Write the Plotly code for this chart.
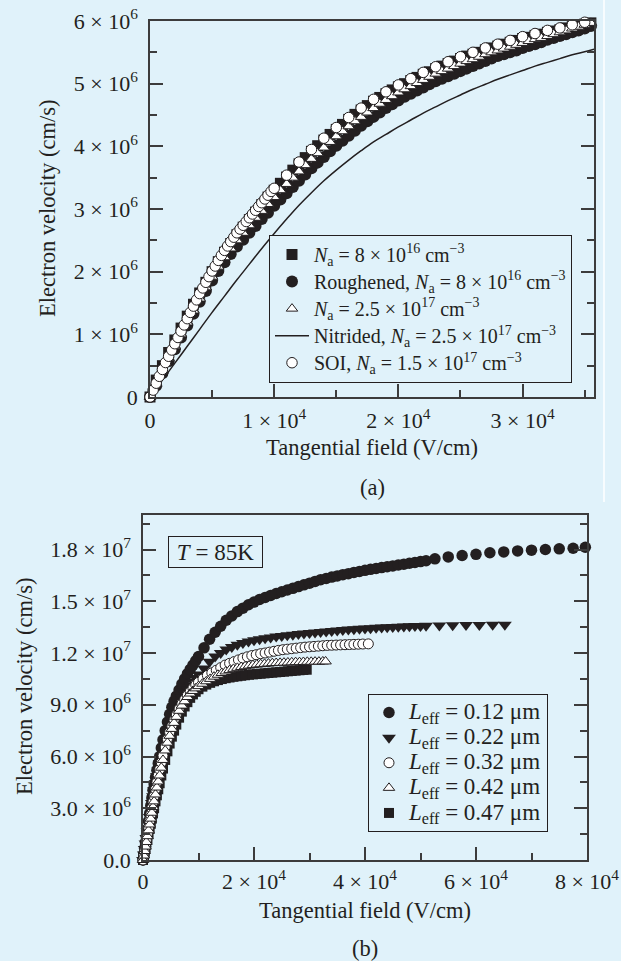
import numpy as np
import plotly.graph_objects as go

# ---------------- data: panel (a) ----------------
# SOI open circles (field V/cm, velocity in 1e6 cm/s)
E_soi = [0, 250, 500, 750, 1000, 1250, 1500, 1750, 2000, 2250, 2500, 2750, 3000, 3250, 3500, 3750,
         4000, 4250, 4500, 4750, 5000, 5250, 5500, 5750, 6000, 6250, 6500, 6750, 7000, 7250, 7500,
         7750, 8000, 8250, 8500, 8750, 9000, 9250, 9500, 9750, 10000,
         11000, 12000, 13000, 14000, 15000, 16000, 17000, 18000, 19000, 20000, 21000, 22000, 23000,
         24000, 25000, 26000, 27000, 28000, 29000, 30000, 31000, 32000, 33000, 34000, 35000]
v_soi = [0.00, 0.11, 0.22, 0.33, 0.44, 0.55, 0.65, 0.75, 0.85, 0.95, 1.05, 1.15, 1.25, 1.35, 1.45, 1.55,
         1.65, 1.74, 1.83, 1.92, 2.01, 2.09, 2.18, 2.26, 2.34, 2.41, 2.48, 2.55, 2.62, 2.68, 2.74,
         2.80, 2.86, 2.92, 2.98, 3.04, 3.10, 3.16, 3.22, 3.28, 3.33,
         3.54, 3.75, 3.95, 4.13, 4.30, 4.46, 4.61, 4.75, 4.87, 4.98, 5.08, 5.18, 5.27,
         5.35, 5.43, 5.50, 5.57, 5.63, 5.69, 5.75, 5.80, 5.85, 5.89, 5.94, 5.98]

# bulk samples (dense markers)
E_bulk = [0, 500, 1000, 1500, 2000, 2500, 3000, 3500, 4000, 4500,
          5000, 5500, 6000, 6500, 7000, 7500, 8000, 8500, 9000, 9500,
          10000, 10500, 11000, 11500, 12000, 12500, 13000, 13500, 14000, 14500,
          15000, 15500, 16000, 16500, 17000, 17500, 18000, 18500, 19000, 19500,
          20000, 20500, 21000, 21500, 22000, 22500, 23000, 23500, 24000, 24500,
          25000, 25500, 26000, 26500, 27000, 27500, 28000, 28500, 29000, 29500,
          30000, 30500, 31000, 31500, 32000, 32500, 33000, 33500, 34000, 34500,
          35000, 35500]
v_na8e16 = [0, 0.27, 0.50, 0.71, 0.91, 1.10, 1.29, 1.48, 1.66, 1.83,
            2.00, 2.16, 2.31, 2.45, 2.59, 2.71, 2.83, 2.95, 3.07, 3.19,
            3.30, 3.41, 3.51, 3.62, 3.72, 3.82, 3.92, 4.01, 4.10, 4.19,
            4.27, 4.35, 4.43, 4.51, 4.58, 4.65, 4.72, 4.78, 4.84, 4.90,
            4.95, 5.00, 5.05, 5.10, 5.15, 5.19, 5.24, 5.28, 5.32, 5.36,
            5.40, 5.44, 5.47, 5.50, 5.54, 5.57, 5.60, 5.63, 5.66, 5.69,
            5.72, 5.74, 5.77, 5.79, 5.82, 5.84, 5.86, 5.89, 5.91, 5.93,
            5.95, 5.97]
v_rough = [0, 0.18, 0.38, 0.57, 0.76, 0.95, 1.14, 1.33, 1.52, 1.69,
           1.86, 2.01, 2.15, 2.28, 2.40, 2.51, 2.62, 2.73, 2.84, 2.94,
           3.05, 3.15, 3.25, 3.35, 3.45, 3.55, 3.65, 3.74, 3.83, 3.92,
           4.01, 4.09, 4.17, 4.25, 4.33, 4.40, 4.47, 4.54, 4.61, 4.67,
           4.73, 4.79, 4.84, 4.89, 4.94, 4.99, 5.04, 5.08, 5.12, 5.16,
           5.20, 5.24, 5.28, 5.32, 5.36, 5.40, 5.44, 5.47, 5.50, 5.53,
           5.57, 5.60, 5.63, 5.66, 5.70, 5.73, 5.76, 5.79, 5.82, 5.85,
           5.88, 5.92]
v_na25e17 = [0, 0.21, 0.42, 0.62, 0.81, 1.00, 1.19, 1.38, 1.57, 1.75,
             1.92, 2.08, 2.23, 2.37, 2.50, 2.62, 2.74, 2.86, 2.97, 3.08,
             3.19, 3.30, 3.40, 3.50, 3.60, 3.70, 3.80, 3.89, 3.98, 4.07,
             4.16, 4.24, 4.32, 4.40, 4.47, 4.54, 4.61, 4.68, 4.74, 4.80,
             4.86, 4.91, 4.96, 5.01, 5.06, 5.11, 5.16, 5.20, 5.24, 5.28,
             5.32, 5.36, 5.39, 5.43, 5.47, 5.50, 5.53, 5.56, 5.59, 5.62,
             5.65, 5.68, 5.71, 5.73, 5.76, 5.79, 5.82, 5.85, 5.88, 5.91,
             5.94, 5.97]

# nitrided (solid line)
E_nit = [0, 1000, 2000, 3000, 4000, 5000, 6000, 7000, 8000, 9000, 10000, 11000, 12000, 13000,
         14000, 15000, 16000, 17000, 18000, 19000, 20000, 21000, 22000, 23000, 24000, 25000,
         26000, 27000, 28000, 29000, 30000, 31000, 32000, 33000, 34000, 35000, 35750]
v_nit = [0, 0.27, 0.54, 0.81, 1.08, 1.35, 1.61, 1.87, 2.12, 2.37, 2.61, 2.84, 3.06, 3.26,
         3.45, 3.62, 3.78, 3.93, 4.07, 4.19, 4.31, 4.42, 4.53, 4.63, 4.73, 4.82,
         4.91, 4.99, 5.07, 5.14, 5.21, 5.28, 5.34, 5.40, 5.46, 5.51, 5.55]

# ---------------- data: panel (b) (velocity in 1e7 cm/s) ----------------
E_b_low = [0, 150, 300, 450, 600, 800, 1000, 1200, 1400, 1600, 1800, 2000, 2250, 2500, 2750, 3000,
           3300, 3600, 4000, 4400, 4800, 5200, 5600, 6000, 6500, 7000, 7500, 8000, 8500, 9000, 9500, 10000]

v012_low = [0, 0.034, 0.068, 0.102, 0.135, 0.18, 0.225, 0.27, 0.315, 0.36, 0.405, 0.44, 0.48, 0.52, 0.56,
            0.60, 0.65, 0.697, 0.75, 0.80, 0.845, 0.885, 0.92, 0.95, 0.985, 1.02, 1.05, 1.08, 1.105,
            1.13, 1.155, 1.18]
E012_hi = [11000, 12000, 13000, 14000, 15000, 16000, 17000, 18000, 19000, 20000, 21000, 22000, 23000,
           24000, 25000, 26000, 27000, 28000, 29000, 30000, 31000, 32000, 33000, 34000, 35000, 36000,
           37000, 38000, 39000, 40000, 41000, 42000, 43000, 44000, 45000, 46000, 47000, 48000, 49000,
           50000, 51000, 52600, 55000, 57500, 60000, 62500, 65000, 67500, 70000, 72500, 75000, 77500, 79700]
v012_hi = [1.23, 1.28, 1.32, 1.355, 1.39, 1.415, 1.44, 1.46, 1.48, 1.495, 1.51, 1.522, 1.534,
           1.545, 1.555, 1.565, 1.575, 1.585, 1.595, 1.605, 1.615, 1.625, 1.632, 1.64, 1.647, 1.654,
           1.66, 1.667, 1.673, 1.679, 1.685, 1.69, 1.695, 1.70, 1.705, 1.71, 1.715, 1.72, 1.725,
           1.73, 1.735, 1.746, 1.757, 1.765, 1.772, 1.781, 1.786, 1.792, 1.796, 1.800, 1.804, 1.807, 1.813]

v022_low = [0, 0.032, 0.064, 0.095, 0.127, 0.168, 0.21, 0.25, 0.29, 0.33, 0.37, 0.405, 0.445, 0.485,
            0.522, 0.56, 0.60, 0.64, 0.69, 0.735, 0.775, 0.81, 0.845, 0.875, 0.91, 0.94, 0.965, 0.99,
            1.01, 1.035, 1.055, 1.075]
E022_hi = [11000, 12000, 13000, 14000, 15000, 16000, 17000, 18000, 19000, 20000, 21000, 22000, 23000,
           24000, 25000, 26000, 27000, 28000, 29000, 30000, 31000, 32000, 33000, 34000, 35000, 36000,
           37000, 38000, 39000, 40000, 41000, 42000, 43000, 44000, 45000, 46000, 47000, 48000, 49000,
           50000, 51000, 53400, 55800, 58200, 60600, 63000, 65200]
v022_hi = [1.11, 1.15, 1.18, 1.20, 1.22, 1.235, 1.248, 1.258, 1.267, 1.274, 1.28, 1.285, 1.29,
           1.295, 1.299, 1.303, 1.306, 1.31, 1.313, 1.316, 1.319, 1.322, 1.325, 1.328, 1.331, 1.333,
           1.336, 1.338, 1.34, 1.342, 1.344, 1.346, 1.348, 1.349, 1.351, 1.352, 1.353, 1.355, 1.356,
           1.357, 1.358, 1.36, 1.361, 1.362, 1.363, 1.364, 1.364]

v032_low = [0, 0.029, 0.058, 0.087, 0.115, 0.153, 0.19, 0.227, 0.263, 0.30, 0.335, 0.37, 0.41, 0.45,
            0.49, 0.525, 0.565, 0.605, 0.655, 0.70, 0.74, 0.775, 0.81, 0.84, 0.875, 0.905, 0.93, 0.955,
            0.975, 0.995, 1.015, 1.03]
E032_hi = [10800, 11600, 12400, 13200, 14000, 14800, 15600, 16400, 17200, 18000, 18800, 19600, 20400,
           21200, 22000, 22800, 23600, 24400, 25200, 26000, 26800, 27600, 28400, 29200, 30000, 30800,
           31600, 32400, 33200, 34000, 34800, 35600, 36400, 37200, 38000, 38800, 39600, 40600]
v032_hi = [1.05, 1.07, 1.085, 1.10, 1.115, 1.13, 1.14, 1.15, 1.16, 1.17, 1.178, 1.185, 1.19,
           1.196, 1.20, 1.205, 1.21, 1.215, 1.219, 1.222, 1.225, 1.228, 1.231, 1.234, 1.236, 1.238,
           1.24, 1.242, 1.244, 1.245, 1.246, 1.247, 1.248, 1.249, 1.25, 1.251, 1.252, 1.253]

v042_low = [0, 0.026, 0.052, 0.078, 0.104, 0.138, 0.172, 0.206, 0.24, 0.274, 0.307, 0.34, 0.38, 0.42,
            0.455, 0.49, 0.535, 0.58, 0.635, 0.68, 0.72, 0.76, 0.795, 0.83, 0.865, 0.895, 0.92, 0.945,
            0.965, 0.98, 0.995, 1.008]
E042_hi = [10700, 11400, 12100, 12800, 13500, 14200, 14900, 15600, 16300, 17000, 17700, 18400, 19100,
           19800, 20500, 21200, 21900, 22600, 23300, 24000, 24700, 25400, 26100, 26800, 27500, 28200,
           28900, 29600, 30300, 31000, 31700, 32400, 32900]
v042_hi = [1.022, 1.036, 1.05, 1.063, 1.074, 1.084, 1.093, 1.101, 1.108, 1.114, 1.119, 1.123, 1.127,
           1.13, 1.133, 1.135, 1.137, 1.139, 1.141, 1.142, 1.143, 1.144, 1.145, 1.146, 1.147, 1.147,
           1.148, 1.149, 1.149, 1.15, 1.15, 1.151, 1.151]

v047_low = [0, 0.023, 0.046, 0.068, 0.09, 0.12, 0.15, 0.18, 0.21, 0.24, 0.27, 0.30, 0.34, 0.375,
            0.41, 0.445, 0.49, 0.53, 0.58, 0.63, 0.675, 0.715, 0.75, 0.785, 0.825, 0.86, 0.89, 0.915,
            0.94, 0.96, 0.975, 0.99]
E047_hi = [10700, 11400, 12100, 12800, 13500, 14200, 14900, 15600, 16300, 17000, 17700, 18400, 19100,
           19800, 20500, 21200, 21900, 22600, 23300, 24000, 24700, 25400, 26100, 26800, 27500, 28200,
           28900, 29500]
v047_hi = [1.005, 1.017, 1.027, 1.036, 1.043, 1.049, 1.054, 1.058, 1.062, 1.065, 1.068, 1.071, 1.074,
           1.076, 1.078, 1.08, 1.082, 1.084, 1.086, 1.088, 1.09, 1.092, 1.094, 1.096, 1.098, 1.10,
           1.102, 1.103]

# ---------------- tick labels ----------------
xa_tickvals = [0, 10000, 20000, 30000]
xa_ticktext = ["0", "1 × 10<sup>4</sup>", "2 × 10<sup>4</sup>", "3 × 10<sup>4</sup>"]
ya_tickvals = [0, 1e6, 2e6, 3e6, 4e6, 5e6, 6e6]
ya_ticktext = ["0", "1 × 10<sup>6</sup>", "2 × 10<sup>6</sup>", "3 × 10<sup>6</sup>",
               "4 × 10<sup>6</sup>", "5 × 10<sup>6</sup>", "6 × 10<sup>6</sup>"]
xb_tickvals = [0, 20000, 40000, 60000, 80000]
xb_ticktext = ["0", "2 × 10<sup>4</sup>", "4 × 10<sup>4</sup>", "6 × 10<sup>4</sup>", "8 × 10<sup>4</sup>"]
yb_tickvals = [0, 3e6, 6e6, 9e6, 1.2e7, 1.5e7, 1.8e7]
yb_ticktext = ["0.0", "3.0 × 10<sup>6</sup>", "6.0 × 10<sup>6</sup>", "9.0 × 10<sup>6</sup>",
               "1.2 × 10<sup>7</sup>", "1.5 × 10<sup>7</sup>", "1.8 × 10<sup>7</sup>"]

# ---------------- styling ----------------
BG = "#e0f2fa"
INK = "#231f20"
AX = "#3c3c3c"
SERIF = "Liberation Serif, Times New Roman, serif"
W, H = 621, 961

def px(v):
    return v / W

def py(v):
    return 1 - v / H

fig = go.Figure()

def filled(sym, size):
    return dict(symbol=sym, size=size, color=INK, line=dict(width=0))

def hollow(sym, size):
    return dict(symbol=sym, size=size, color="white", line=dict(width=1, color=INK))

def big(s, size):
    return '<span style="font-size:%dpx">%s</span>' % (size, s)

NA = "<i>N</i><sub>a</sub>"
CM3 = "cm<sup>−3</sup>"

# panel (a)
fig.add_trace(go.Scatter(x=E_bulk, y=np.array(v_na8e16) * 1e6, mode="markers", marker=filled("square", 11),
                         name=big(NA + " = 8 × 10<sup>16</sup> " + CM3, 20),
                         cliponaxis=False, legend="legend", xaxis="x", yaxis="y"))
fig.add_trace(go.Scatter(x=E_bulk, y=np.array(v_rough) * 1e6, mode="markers", marker=filled("circle", 12),
                         name=big("Roughened, " + NA + " = 8 × 10<sup>16</sup> " + CM3, 20),
                         cliponaxis=False, legend="legend", xaxis="x", yaxis="y"))
fig.add_trace(go.Scatter(x=E_bulk, y=np.array(v_na25e17) * 1e6, mode="markers", marker=hollow("triangle-up", 10),
                         name=big(NA + " = 2.5 × 10<sup>17</sup> " + CM3, 20),
                         cliponaxis=False, legend="legend", xaxis="x", yaxis="y"))
fig.add_trace(go.Scatter(x=E_nit, y=np.array(v_nit) * 1e6, mode="lines", line=dict(color=INK, width=1.5, shape="spline"),
                         name=big("Nitrided, " + NA + " = 2.5 × 10<sup>17</sup> " + CM3, 20),
                         legend="legend", xaxis="x", yaxis="y"))
fig.add_trace(go.Scatter(x=E_soi, y=np.array(v_soi) * 1e6, mode="markers", marker=hollow("circle", 10.5),
                         name=big("SOI, " + NA + " = 1.5 × 10<sup>17</sup> " + CM3, 20),
                         cliponaxis=False, legend="legend", xaxis="x", yaxis="y"))

# panel (b)
def leff(s):
    return big("<i>L</i><sub>eff</sub> = " + s + " μm", 23)

fig.add_trace(go.Scatter(x=E_b_low + E047_hi, y=np.array(v047_low + v047_hi) * 1e7, mode="markers",
                         marker=filled("square", 10), name=leff("0.47"), legendrank=5,
                         cliponaxis=False, legend="legend2", xaxis="x2", yaxis="y2"))
fig.add_trace(go.Scatter(x=E_b_low + E012_hi, y=np.array(v012_low + v012_hi) * 1e7, mode="markers",
                         marker=filled("circle", 11.5), name=leff("0.12"), legendrank=1,
                         cliponaxis=False, legend="legend2", xaxis="x2", yaxis="y2"))
fig.add_trace(go.Scatter(x=E_b_low + E022_hi, y=np.array(v022_low + v022_hi) * 1e7, mode="markers",
                         marker=filled("triangle-down", 12), name=leff("0.22"), legendrank=2,
                         cliponaxis=False, legend="legend2", xaxis="x2", yaxis="y2"))
fig.add_trace(go.Scatter(x=E_b_low + E032_hi, y=np.array(v032_low + v032_hi) * 1e7, mode="markers",
                         marker=hollow("circle", 10), name=leff("0.32"), legendrank=3,
                         cliponaxis=False, legend="legend2", xaxis="x2", yaxis="y2"))
fig.add_trace(go.Scatter(x=E_b_low + E042_hi, y=np.array(v042_low + v042_hi) * 1e7, mode="markers",
                         marker=hollow("triangle-up", 10), name=leff("0.42"), legendrank=4,
                         cliponaxis=False, legend="legend2", xaxis="x2", yaxis="y2"))

def axis_common(standoff):
    return dict(showline=True, linecolor=AX, linewidth=1.5, ticks="inside", ticklen=13, tickwidth=1.5,
                tickcolor=AX, showgrid=False, zeroline=False, tickmode="array", automargin=False,
                tickfont=dict(family=SERIF, size=22, color=INK), ticklabelstandoff=standoff)

def minor(vals):
    return dict(tickvals=vals, ticklen=7, tickwidth=1.5, tickcolor=AX, ticks="inside")

fig.update_layout(
    template="none",
    width=W, height=H, margin=dict(l=0, r=0, t=0, b=0, autoexpand=False),
    paper_bgcolor=BG, plot_bgcolor=BG,
    font=dict(family=SERIF, size=20, color=INK),
    xaxis=dict(domain=[px(150), px(594)], range=[0, 35750], anchor="y", mirror=True,
               tickvals=xa_tickvals, ticktext=xa_ticktext, minor=minor([5000, 15000, 25000, 35000]),
               **axis_common(3)),
    yaxis=dict(domain=[py(397), py(21)], range=[0, 6e6], anchor="x", mirror="ticks",
               tickvals=ya_tickvals, ticktext=ya_ticktext,
               minor=minor([0.5e6, 1.5e6, 2.5e6, 3.5e6, 4.5e6, 5.5e6]),
               **axis_common(6)),
    xaxis2=dict(domain=[px(143), px(587)], range=[0, 80000], anchor="y2", mirror=True,
                tickvals=xb_tickvals, ticktext=xb_ticktext, minor=minor([10000, 30000, 50000, 70000]),
                **axis_common(1)),
    yaxis2=dict(domain=[py(860), py(515)], range=[0, 2e7], anchor="x2", mirror="ticks",
                tickvals=yb_tickvals, ticktext=yb_ticktext,
                minor=minor([1.5e6, 4.5e6, 7.5e6, 1.05e7, 1.35e7, 1.65e7, 1.95e7]),
                **axis_common(6)),
    legend=dict(x=px(269), y=py(235), xanchor="left", yanchor="top", bgcolor=BG, bordercolor=INK,
                borderwidth=1, font=dict(family=SERIF, size=18.5, color=INK), tracegroupgap=0,
                itemwidth=34),
    legend2=dict(x=px(368), y=py(694), xanchor="left", yanchor="top", bgcolor=BG, bordercolor=INK,
                 borderwidth=1, font=dict(family=SERIF, size=17, color=INK), tracegroupgap=0,
                 itemwidth=30),
    showlegend=True,
)

ann = [
    dict(text="Electron velocity (cm/s)", x=px(47), y=py(209), textangle=-90),
    dict(text="Tangential field (V/cm)", x=px(372), y=py(447)),
    dict(text="(a)", x=px(372), y=py(487)),
    dict(text="Electron velocity (cm/s)", x=px(24), y=py(687), textangle=-90),
    dict(text="Tangential field (V/cm)", x=px(365), y=py(910)),
    dict(text="(b)", x=px(365), y=py(948)),
]
for a in ann:
    fig.add_annotation(xref="paper", yref="paper", showarrow=False, xanchor="center", yanchor="middle",
                       font=dict(family=SERIF, size=22.5, color=INK), **a)
fig.add_annotation(xref="paper", yref="paper", x=px(215.5), y=py(552), showarrow=False,
                   text="<i>T</i> = 85K", font=dict(family=SERIF, size=23, color=INK),
                   bordercolor=INK, borderwidth=1, borderpad=3, bgcolor=BG, width=87, height=24)

fig.add_shape(type="line", xref="paper", yref="paper", x0=px(604), x1=px(604), y0=py(502), y1=1,
              line=dict(color="white", width=1.5))

fig.write_html("out.html")
